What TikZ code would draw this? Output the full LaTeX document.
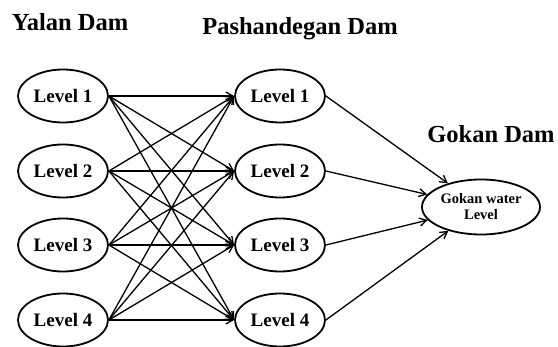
\documentclass[tikz,border=0pt]{standalone}
\usepackage{fontspec}
\setmainfont{Liberation Serif}
\usetikzlibrary{shapes.geometric,arrows.meta}
\tikzset{
  level/.style={ellipse,draw,line width=1.8pt,minimum width=90pt,minimum height=53pt,inner sep=0pt,font=\fontsize{19}{20}\selectfont\bfseries},
  title/.style={font=\fontsize{24.5}{26}\selectfont\bfseries},
  link/.style={line width=1.3pt,-{Straight Barb[length=7pt,width=8pt]}}
}
\begin{document}
\begin{tikzpicture}[x=1pt,y=-1pt]
    \useasboundingbox (0,0) rectangle (558,347);
    \node[title] (yalan) at (70,22) {Yalan Dam};
    \node[title] (pash) at (300,29) {Pashandegan Dam};
    \node[title] (gokan) at (491,134) {Gokan Dam};
    \foreach \i/\y in {1/96,2/171,3/245,4/320} {
        \node[level] (y\i) at (63,\y) {Level \i};
        \node[level] (p\i) at (280,\y) {Level \i};
    }
    \node[level,minimum width=118pt,minimum height=55pt,font=\fontsize{14.5}{16}\selectfont\bfseries,align=center] (gw) at (481,207) {Gokan water\\Level};
    \foreach \i in {1,...,4} {
        \foreach \j in {1,...,4}
            \draw[link] (y\i.east) -- (p\j.west);
        \draw[link] (p\i.east) -- (gw);
    }
\end{tikzpicture}
\end{document}
